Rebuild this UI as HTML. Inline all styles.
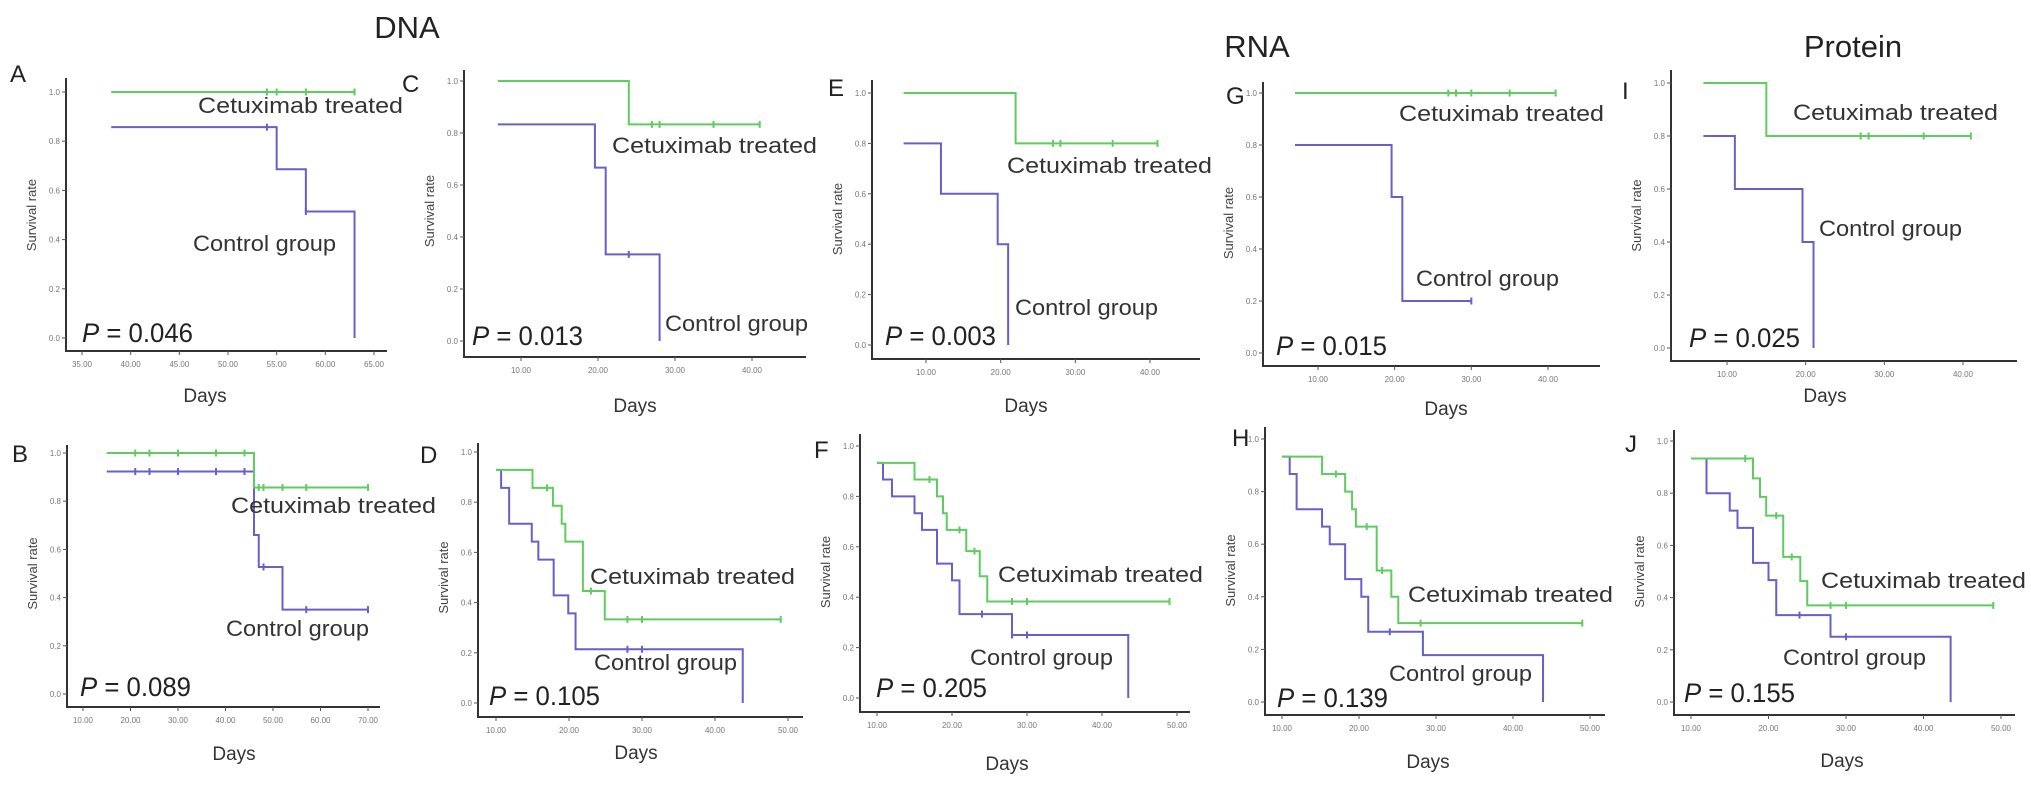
<!DOCTYPE html>
<html><head><meta charset="utf-8"><style>
html,body{margin:0;padding:0;background:#fff}
svg{display:block;font-family:"Liberation Sans",sans-serif}
</style></head><body>
<svg id="fig" width="2031" height="795" viewBox="0 0 2031 795" xmlns="http://www.w3.org/2000/svg">
<rect width="2031" height="795" fill="#fff"/>
<text x="407" y="38" font-size="31" fill="#222" text-anchor="middle">DNA</text>
<text x="1257" y="57" font-size="31" fill="#222" text-anchor="middle">RNA</text>
<text x="1853" y="57" font-size="31" fill="#222" text-anchor="middle">Protein</text>
<g id="plots"></g>
</svg>
<script>
// ---- data: treated (green) and control (blue) step curves ----
const A_trt_t=[38], A_trt_s=[1], A_trt_end=63, A_trt_c=[54,55,58,63];
const A_ctl_t=[38,55,58,63], A_ctl_s=[0.857,0.686,0.514,0], A_ctl_end=63, A_ctl_c=[54,58];
const B_trt_t=[15,46], B_trt_s=[1,0.857], B_trt_end=70, B_trt_c=[21,24,30,38,44,47,48,52,57,70];
const B_ctl_t=[15,46,47,52], B_ctl_s=[0.923,0.66,0.527,0.35], B_ctl_end=70, B_ctl_c=[21,24,30,38,44,48,57,70];
const C_trt_t=[7,24], C_trt_s=[1,0.833], C_trt_end=41, C_trt_c=[27,28,35,41];
const C_ctl_t=[7,19.6,21,28], C_ctl_s=[0.833,0.667,0.333,0], C_ctl_end=28, C_ctl_c=[24];
const D_trt_t=[10,15,17.8,19,19.5,21.9,24.9], D_trt_s=[0.929,0.857,0.786,0.714,0.643,0.446,0.333], D_trt_end=49, D_trt_c=[17,23,28,30,49];
const D_ctl_t=[10,10.7,11.8,14.9,15.8,17.9,19.9,20.9,43.8], D_ctl_s=[0.929,0.857,0.714,0.643,0.571,0.429,0.357,0.214,0], D_ctl_end=43.8, D_ctl_c=[28,30];
const E_trt_t=[7,22], E_trt_s=[1,0.8], E_trt_end=41, E_trt_c=[27,28,35,41];
const E_ctl_t=[7,12,19.6,21], E_ctl_s=[0.8,0.6,0.4,0], E_ctl_end=21, E_ctl_c=[];
const F_trt_t=[10,15,18,18.8,19.3,21.9,23.7,24.7], F_trt_s=[0.933,0.867,0.8,0.733,0.667,0.583,0.483,0.383], F_trt_end=49, F_trt_c=[17,21,23,28,30,49];
const F_ctl_t=[10,10.8,12,15,16,18,20,21,28,43.5], F_ctl_s=[0.933,0.867,0.8,0.733,0.667,0.533,0.467,0.333,0.25,0], F_ctl_end=43.5, F_ctl_c=[24,28,30];
const G_trt_t=[7], G_trt_s=[1], G_trt_end=41, G_trt_c=[27,28,30,35,41];
const G_ctl_t=[7,19.6,21], G_ctl_s=[0.8,0.6,0.2], G_ctl_end=30, G_ctl_c=[30];
const H_trt_t=[10,15.2,18.2,19.1,19.6,22.3,24.2,25.1], H_trt_s=[0.933,0.867,0.8,0.733,0.667,0.5,0.4,0.3], H_trt_end=49, H_trt_c=[17,21,23,28,49];
const H_ctl_t=[10,11,11.9,15.2,16.2,18.2,20.3,21.2,28.3,43.9], H_ctl_s=[0.933,0.867,0.733,0.667,0.6,0.467,0.4,0.267,0.178,0], H_ctl_end=43.9, H_ctl_c=[24];
const I_trt_t=[7,15], I_trt_s=[1,0.8], I_trt_end=41, I_trt_c=[27,28,35,41];
const I_ctl_t=[7,11,19.6,21], I_ctl_s=[0.8,0.6,0.4,0], I_ctl_end=21, I_ctl_c=[];
const J_trt_t=[10,18,18.9,19.7,21.9,24.1,25], J_trt_s=[0.933,0.857,0.786,0.714,0.556,0.463,0.37], J_trt_end=49, J_trt_c=[17,21,23,28,30,49];
const J_ctl_t=[10,12,15,16,18,20,21,28,43.5], J_ctl_s=[0.933,0.8,0.733,0.667,0.533,0.467,0.333,0.25,0], J_ctl_end=43.5, J_ctl_c=[24,30];
const pValues=["0.046","0.089","0.013","0.105","0.003","0.205","0.015","0.139","0.025","0.155"];
const xTicksA=[35,40,45,50,55,60,65], xTicksB=[10,20,30,40,50,60,70], xTicks40=[10,20,30,40], xTicks50=[10,20,30,40,50];
const yTicks=[0,0.2,0.4,0.6,0.8,1.0];

// ---- geometry (layout only) ----
const panels=[
 {id:'A',trt:[A_trt_t,A_trt_s,A_trt_end,A_trt_c],ctl:[A_ctl_t,A_ctl_s,A_ctl_end,A_ctl_c],xt:xTicksA,ax:66,top:78,bot:351,right:387,y1:92,y0:338,xa:[35,82],xb:[65,374],lab:[10,82],cet:[198,105],con:[193,243],p:[82,332],days:[205,402]},
 {id:'B',trt:[B_trt_t,B_trt_s,B_trt_end,B_trt_c],ctl:[B_ctl_t,B_ctl_s,B_ctl_end,B_ctl_c],xt:xTicksB,ax:67,top:445,bot:707,right:380,y1:453,y0:694,xa:[10,83],xb:[70,368],lab:[12,462],cet:[231,505],con:[226,628],p:[80,686],days:[234,760]},
 {id:'C',trt:[C_trt_t,C_trt_s,C_trt_end,C_trt_c],ctl:[C_ctl_t,C_ctl_s,C_ctl_end,C_ctl_c],xt:xTicks40,ax:464,top:70,bot:357,right:806,y1:81,y0:341,xa:[10,521],xb:[40,752],lab:[402,92],cet:[612,145],con:[665,323],p:[472,335],days:[635,412]},
 {id:'D',trt:[D_trt_t,D_trt_s,D_trt_end,D_trt_c],ctl:[D_ctl_t,D_ctl_s,D_ctl_end,D_ctl_c],xt:xTicks50,ax:478,top:443,bot:717,right:803,y1:452,y0:703,xa:[10,496],xb:[50,788],lab:[420,463],cet:[590,576],con:[594,662],p:[489,695],days:[636,759]},
 {id:'E',trt:[E_trt_t,E_trt_s,E_trt_end,E_trt_c],ctl:[E_ctl_t,E_ctl_s,E_ctl_end,E_ctl_c],xt:xTicks40,ax:872,top:80,bot:359,right:1200,y1:93,y0:345,xa:[10,926],xb:[40,1150],lab:[828,96],cet:[1007,165],con:[1015,307],p:[885,335],days:[1026,412]},
 {id:'F',trt:[F_trt_t,F_trt_s,F_trt_end,F_trt_c],ctl:[F_ctl_t,F_ctl_s,F_ctl_end,F_ctl_c],xt:xTicks50,ax:860,top:434,bot:712,right:1190,y1:446,y0:698,xa:[10,877],xb:[50,1177],lab:[814,458],cet:[998,574],con:[970,657],p:[876,687],days:[1007,770]},
 {id:'G',trt:[G_trt_t,G_trt_s,G_trt_end,G_trt_c],ctl:[G_ctl_t,G_ctl_s,G_ctl_end,G_ctl_c],xt:xTicks40,ax:1263,top:82,bot:366,right:1600,y1:93,y0:353,xa:[10,1318],xb:[40,1548],lab:[1226,104],cet:[1399,113],con:[1416,278],p:[1276,345],days:[1446,415]},
 {id:'H',trt:[H_trt_t,H_trt_s,H_trt_end,H_trt_c],ctl:[H_ctl_t,H_ctl_s,H_ctl_end,H_ctl_c],xt:xTicks50,ax:1265,top:427,bot:715,right:1605,y1:439,y0:702,xa:[10,1282],xb:[50,1590],lab:[1232,446],cet:[1408,594],con:[1389,673],p:[1277,697],days:[1428,768]},
 {id:'I',trt:[I_trt_t,I_trt_s,I_trt_end,I_trt_c],ctl:[I_ctl_t,I_ctl_s,I_ctl_end,I_ctl_c],xt:xTicks40,ax:1671,top:70,bot:361,right:2017,y1:83,y0:348,xa:[10,1727],xb:[40,1963],lab:[1622,99],cet:[1793,112],con:[1819,228],p:[1689,337],days:[1825,402]},
 {id:'J',trt:[J_trt_t,J_trt_s,J_trt_end,J_trt_c],ctl:[J_ctl_t,J_ctl_s,J_ctl_end,J_ctl_c],xt:xTicks50,ax:1674,top:430,bot:715,right:2015,y1:441,y0:702,xa:[10,1691],xb:[50,2001],lab:[1625,452],cet:[1821,580],con:[1783,657],p:[1684,692],days:[1842,767]}
];
const NS='http://www.w3.org/2000/svg';
const root=document.getElementById('plots');
function mk(tag,attrs,parent,txt){const e=document.createElementNS(NS,tag);for(const k in attrs)e.setAttribute(k,attrs[k]);if(txt!==undefined)e.textContent=txt;parent.appendChild(e);return e;}
function survAt(t,ts,ss){let v=ss[0];for(let i=0;i<ts.length;i++){if(t>=ts[i])v=ss[i];}return v;}

panels.forEach((p,idx)=>{
  const g=mk('g',{},root);
  
  
  const sx=v=>p.xa[1]+(v-p.xa[0])*(p.xb[1]-p.xa[1])/(p.xb[0]-p.xa[0]);
  const sy=v=>p.y0+(p.y1-p.y0)*v;
  const lab=mk('text',{x:p.lab[0],y:p.lab[1],'font-size':24,fill:'#222'},g,p.id);
  
  
  const axes=mk('path',{d:`M${p.ax},${p.top}V${p.bot}H${p.right}`,fill:'none',stroke:'#333','stroke-width':2},g);
  
  
  yTicks.forEach(v=>{
    const y=sy(v);
    const tk=mk('line',{x1:p.ax-4,x2:p.ax,y1:y,y2:y,stroke:'#555','stroke-width':1},g);
    
    
    const tl=mk('text',{x:p.ax-6,y:y+3,'font-size':8,fill:'#777','text-anchor':'end'},g,v.toFixed(1));
    
    
  });
  p.xt.forEach(v=>{
    const x=sx(v);
    const tk=mk('line',{x1:x,x2:x,y1:p.bot,y2:p.bot+4,stroke:'#555','stroke-width':1},g);
    
    
    const tl=mk('text',{x:x,y:p.bot+16,'font-size':8,fill:'#777','text-anchor':'middle'},g,v.toFixed(2));
    
    
  });
  const yt=mk('text',{x:0,y:0,'font-size':13,fill:'#444','text-anchor':'middle',transform:`translate(${p.ax-30},${(p.y0+p.y1)/2}) rotate(-90)`},g,'Survival rate');
  
  
  const xt=mk('text',{x:p.days[0],y:p.days[1],'font-size':19,fill:'#333','text-anchor':'middle'},g,'Days');
  
  
  [['ctl','#6a5fc8','control-curve'],['trt','#5fcc5f','treated-curve']].forEach(([k,col,nm])=>{
    const [ts,ss,end,cs]=p[k];
    let d=`M${sx(ts[0])},${sy(ss[0])}`;
    for(let i=1;i<ts.length;i++){d+=`H${sx(ts[i])}V${sy(ss[i])}`;}
    d+=`H${sx(end)}`;
    const path=mk('path',{d:d,fill:'none',stroke:col,'stroke-width':2},g);
    
    
    cs.forEach(t=>{
      const y=sy(survAt(t,ts,ss));
      const c=mk('line',{x1:sx(t),x2:sx(t),y1:y-3.5,y2:y+3.5,stroke:col,'stroke-width':2},g);
      
      
    });
  });
  const ct=mk('text',{x:p.cet[0],y:p.cet[1]+8,'font-size':22,fill:'#333',textLength:205,lengthAdjust:'spacingAndGlyphs'},g,'Cetuximab treated');
  
  
  const cg=mk('text',{x:p.con[0],y:p.con[1]+8,'font-size':22,fill:'#333',textLength:143,lengthAdjust:'spacingAndGlyphs'},g,'Control group');
  
  
  const pt=mk('text',{x:p.p[0],y:p.p[1]+10,'font-size':27,fill:'#222',textLength:111,lengthAdjust:'spacingAndGlyphs'},g);
  
  
  mk('tspan',{'font-style':'italic'},pt,'P');
  mk('tspan',{},pt,' = '+pValues[idx]);
});
</script>
</body></html>
